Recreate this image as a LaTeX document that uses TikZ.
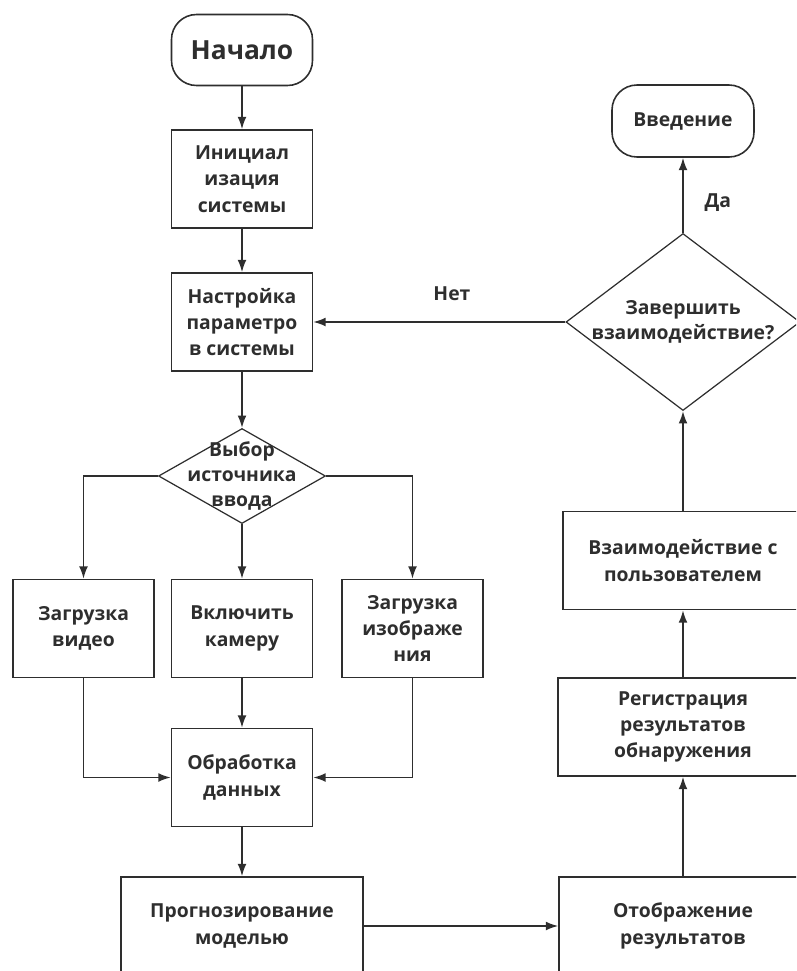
\documentclass[tikz,border=0pt]{standalone}
\usepackage{fontspec}
\setmainfont{Open Sans}
\usetikzlibrary{shapes.geometric,arrows.meta}

\definecolor{ink}{HTML}{2E2E2E}

\begin{document}
\begin{tikzpicture}[
    every node/.style={font=\bfseries\fontsize{11}{15}\selectfont, text=ink, align=center},
    node distance=3cm,
    term/.style={draw=ink, line width=0.9pt, rounded corners=0.5cm, minimum width=2.82cm, minimum height=1.42cm},
    proc/.style={draw=ink, line width=0.9pt, minimum width=2.82cm, minimum height=1.96cm},
    wide/.style={proc, minimum width=4.84cm},
    decision/.style={draw=ink, line width=0.7pt, diamond, inner sep=0pt, minimum width=3.34cm, minimum height=1.9cm},
    flow/.style={draw=ink, line width=0.9pt, -{Latex[length=7pt,width=5pt]}}
  ]
			      \useasboundingbox (0,0) rectangle (15.92,-19.42);
			      \clip (0,0) rectangle (15.92,-19.42);
			      % left column
			      \node (start) [term, font=\bfseries\fontsize{15}{18}\selectfont] at (4.84,-1.0) {Начало};
			      \node (init) [proc, below of=start, yshift=0.42cm] {Инициал\\изация\\системы};
			      \node (setup) [proc, below of=init, yshift=0.14cm] {Настройка\\параметро\\в системы};
			      \node (choice) [decision, below of=setup, yshift=-0.08cm, label={[font=\bfseries\fontsize{11}{14}\selectfont]center:{Выбор\\источника\\ввода}}] {};
			      \node (camera) [proc, below of=choice, yshift=-0.05cm] {Включить\\камеру};
			      \node (video) [proc, left of=camera, xshift=-0.17cm] {Загрузка\\видео};
			      \node (image) [proc, right of=camera, xshift=0.41cm] {Загрузка\\изображе\\ния};
			      \node (process) [proc, below of=camera, yshift=0.02cm] {Обработка\\данных};
			      \node (predict) [wide, below of=process, yshift=0.03cm] {Прогнозирование\\моделью};
			      % right column
			      \node (display) [wide, right of=predict, xshift=5.82cm, minimum width=4.96cm] {Отображение\\результатов};
			      \node (register) [wide, above of=display, yshift=0.98cm, minimum width=5cm] {Регистрация\\результатов\\обнаружения};
			      \node (interact) [wide, above of=register, yshift=0.33cm, minimum width=4.8cm] {Взаимодействие с\\пользователем};
			      \node (finish) [decision, above of=interact, yshift=1.77cm, minimum width=4.68cm, minimum height=3.54cm, label={[font=\bfseries\fontsize{11}{14}\selectfont]center:{Завершить\\взаимодействие?}}] {};
			      \node (stop) [term, above of=finish, yshift=1.02cm, minimum width=2.84cm, minimum height=1.44cm] {Введение};
			      % arrows
			      \draw [flow](start)--(init);
			      \draw [flow](init)--(setup);
			      \draw [flow](setup)--(choice);
			      \draw [flow](choice)--(camera);
			      \draw [flow](choice.west)-|(video);
			      \draw [flow](choice.east)-|(image);
			      \draw [flow](camera)--(process);
			      \draw [flow](video)|-(process);
			      \draw [flow](image)|-(process);
			      \draw [flow](process)--(predict);
			      \draw [flow](predict)--(display);
			      \draw [flow](display)--(register);
			      \draw [flow](register)--(interact);
			      \draw [flow](interact)--(finish.south);
			      \draw [flow](finish.north)-- node[pos=0.4, right=0.3cm] {Да} (stop);
			      \draw [flow](finish.west)-- node[pos=0.45, above=0.3cm] {Нет} (setup);
		      \end{tikzpicture}
\end{document}
